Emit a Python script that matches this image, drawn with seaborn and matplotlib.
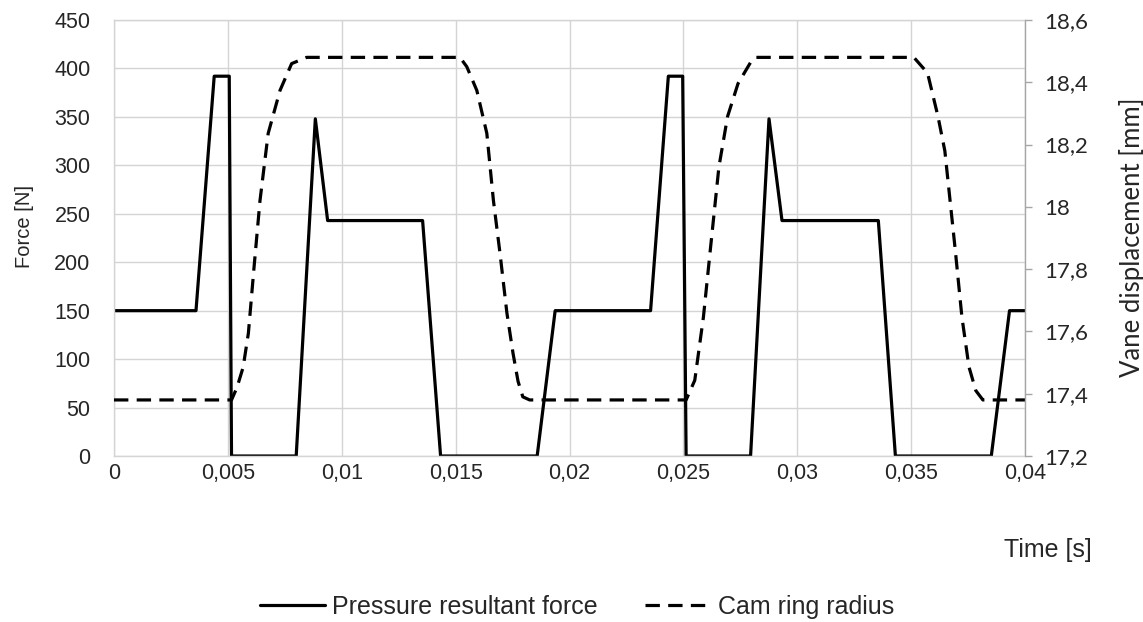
import matplotlib
matplotlib.use("Agg")
import matplotlib.pyplot as plt
import seaborn as sns

# ---- data ----
force_t = [0, 0.0036, 0.0044, 0.00506, 0.00516, 0.0080, 0.00884, 0.00938, 0.01355,
           0.01434, 0.01858, 0.01937, 0.02356, 0.02434, 0.02497, 0.02512, 0.02795,
           0.02876, 0.02933, 0.03356, 0.03431, 0.03852, 0.03932, 0.04]
force_v = [150, 150, 392, 392, 0, 0, 348, 243, 243, 0, 0, 150, 150, 392, 392, 0, 0,
           348, 243, 243, 0, 0, 150, 150]

cam_t = [0, 0.00516, 0.0054, 0.00567, 0.0059, 0.00615, 0.00641, 0.00677, 0.00729,
         0.0078, 0.00846, 0.01519, 0.01549, 0.01593, 0.01637, 0.01666, 0.01695,
         0.01725, 0.01752, 0.01774, 0.01795, 0.01825, 0.02512, 0.0255, 0.02588,
         0.02618, 0.02656, 0.02694, 0.0274, 0.028, 0.0282, 0.03512, 0.03572,
         0.03618, 0.03648, 0.03671, 0.03694, 0.03723, 0.03754, 0.03784, 0.03815, 0.04]
cam_r = [17.38, 17.38, 17.42, 17.485, 17.594, 17.807, 18.02, 18.236, 18.374,
         18.46, 18.48, 18.48, 18.45, 18.374, 18.236, 18.02, 17.85,
         17.66, 17.53, 17.44, 17.39, 17.38, 17.38, 17.443, 17.646,
         17.86, 18.128, 18.29, 18.396, 18.47, 18.48, 18.48, 18.43,
         18.29, 18.18, 18.02, 17.86, 17.646, 17.486, 17.41, 17.38, 17.38]

x_ticks = [0, 0.005, 0.01, 0.015, 0.02, 0.025, 0.03, 0.035, 0.04]
x_labels = ["0", "0,005", "0,01", "0,015", "0,02", "0,025", "0,03", "0,035", "0,04"]
f_ticks = [0, 50, 100, 150, 200, 250, 300, 350, 400, 450]
r_ticks = [17.2, 17.4, 17.6, 17.8, 18.0, 18.2, 18.4, 18.6]
r_labels = ["17,2", "17,4", "17,6", "17,8", "18", "18,2", "18,4", "18,6"]

series_names = ["Pressure resultant force", "Cam ring radius"]

# ---- style ----
sns.set_style("white")
plt.rcParams['font.family'] = ['Liberation Sans', 'DejaVu Sans']

fig = plt.figure(figsize=(11.43, 6.22), dpi=100)
ax = fig.add_axes([114 / 1143, 1 - 456 / 622, (1025 - 114) / 1143, (456 - 20) / 622])
ax2 = ax.twinx()

sns.lineplot(x=force_t, y=force_v, ax=ax, color="black", lw=2.3,
             sort=False, estimator=None)
sns.lineplot(x=cam_t, y=cam_r, ax=ax2, color="black", lw=2.3,
             sort=False, estimator=None, linestyle=(0, (4.5, 2.6)))

grid_col = "#d4d4d4"
ax.set_xlim(0, 0.04)
ax.set_ylim(0, 450)
ax.set_xticks(x_ticks)
ax.set_xticklabels(x_labels)
ax.set_yticks(f_ticks)
ax.grid(True, color=grid_col, lw=1)
ax.set_axisbelow(True)
ax.tick_params(axis="y", length=0, pad=17, labelsize=15.5)
ax.tick_params(axis="x", length=0, pad=5, labelsize=15.5)
for s in ["left", "top", "bottom"]:
    ax.spines[s].set_color(grid_col)
    ax.spines[s].set_linewidth(1)
ax.spines["right"].set_visible(False)

ax2.set_ylim(17.2, 18.6)
ax2.set_yticks(r_ticks)
ax2.set_yticklabels(r_labels, family="Lato")
ax2.tick_params(axis="y", length=5, width=1, color="#a6a6a6", pad=9, labelsize=16)
for s in ["left", "top", "bottom"]:
    ax2.spines[s].set_visible(False)
ax2.spines["right"].set_color("#a6a6a6")
ax2.spines["right"].set_linewidth(1)

ax.set_xlabel("Time [s]", fontsize=18)
ax.xaxis.set_label_coords((1092 - 114) / 911, (456 - 550) / 436)
ax.xaxis.label.set_ha("right")
ax.xaxis.label.set_va("center")

ax.set_ylabel("Force [N]", fontsize=14.5)
ax.yaxis.set_label_coords((25 - 114) / 911, (456 - 227) / 436)
ax.yaxis.label.set_va("center")

ax2.set_ylabel("Vane displacement [mm]", fontsize=18.5, family="Lato")
ax2.yaxis.set_label_coords((1132 - 114) / 911, (456 - 237) / 436)
ax2.yaxis.label.set_va("center")

handles = [ax.get_lines()[0], ax2.get_lines()[0]]
fig.legend(handles, series_names, loc="center", bbox_to_anchor=(577 / 1143, 1 - 607 / 622),
           ncol=2, frameon=False, fontsize=18, handlelength=2.6, handletextpad=0.3,
           columnspacing=1.9)

fig.savefig("out.png", dpi=100)
